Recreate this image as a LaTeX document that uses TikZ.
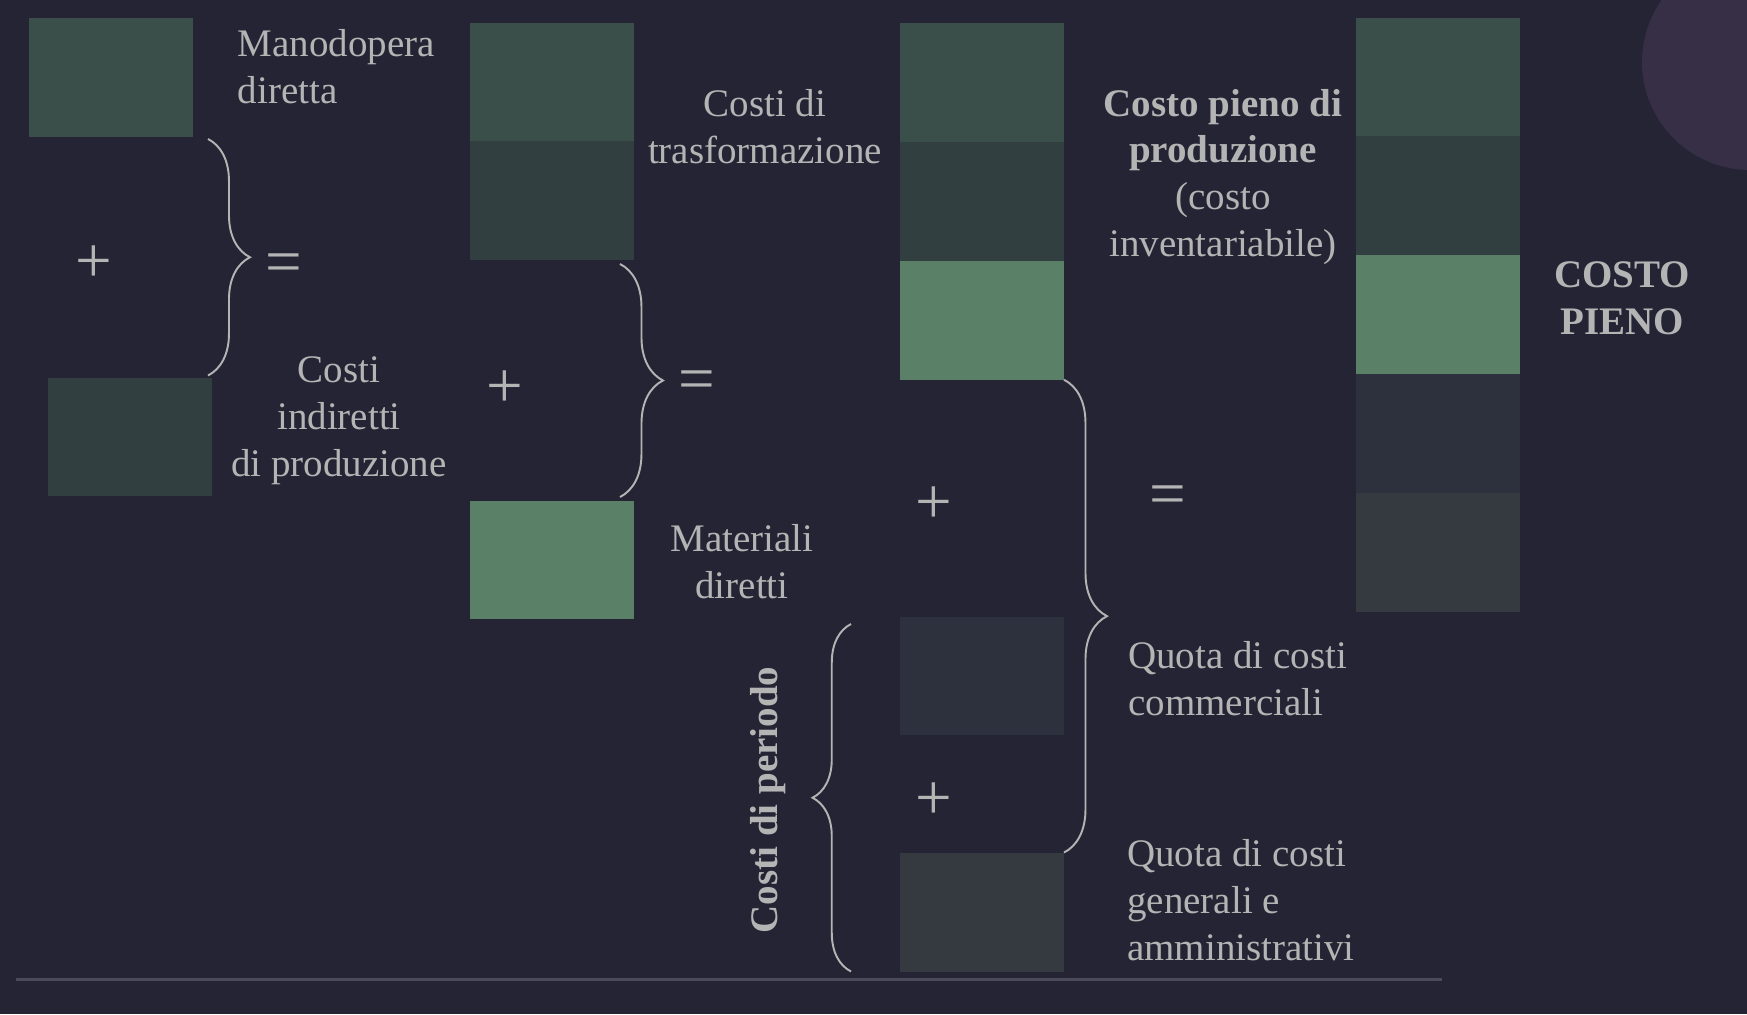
\documentclass[tikz,border=0pt]{standalone}
\usepackage{fontspec}
\setmainfont{Liberation Serif}
\usetikzlibrary{positioning,decorations.pathreplacing}

\definecolor{bgcol}{HTML}{252435}
\definecolor{disc}{HTML}{362F45}
\definecolor{txt}{HTML}{B4B4B4}
\definecolor{rulecol}{HTML}{4B4A5A}
\definecolor{labour}{HTML}{3A4E4A}
\definecolor{overhead}{HTML}{323F41}
\definecolor{material}{HTML}{5A8068}
\definecolor{selling}{HTML}{2D313D}
\definecolor{admin}{HTML}{343A3F}

\begin{document}
\begin{tikzpicture}[
     x=0.02cm, y=-0.02cm,
     % define styles
     cost/.style={
         draw=none,
         inner sep=0pt, outer sep=0pt,
         minimum width=3.28cm,
         minimum height=2.38cm
     },
     lbl/.style={
         text=txt,
         font=\fontsize{22.2}{26.7}\selectfont
     },
     sign/.style={
         text=txt,
         inner sep=0pt,
         font=\fontsize{37}{37}\selectfont
     },
     curly/.style={
         draw=txt,
         line width=1.1pt,
         decorate,
         decoration={brace, amplitude=#1}
     }
]
% background
\useasboundingbox (0,0) rectangle (1747,1014);
\fill[bgcol] (0,0) rectangle (1747,1014);
\fill[disc] (1750,62) circle (108);

% labour + overhead
\node[cost, fill=labour] (manod) at (111,77.5) {};
\node[cost, fill=overhead] (indir) at (130,437) {};
\node[lbl, anchor=west, align=left] (manodtxt) at (231.6,67) {Manodopera\\diretta};
\node[lbl, align=center] (indirtxt) at (339,421) {Costi\\indiretti\\di produzione};
\node[sign] (plusA) at (94,264.5) {+};
\node[sign] (eqA) at (283.5,268.5) {=};
\draw[curly=0.84cm] ([shift={(15,2)}]manod.south east) -- ([shift={(-4,-2)}]indir.north east);

% conversion costs + materials
\node[cost, fill=labour] (trasfA) at (552,82) {};
\node[cost, fill=overhead, below=0pt of trasfA] (trasfB) {};
\node[cost, fill=material] (mater) at (552,560) {};
\node[lbl, align=center] (trasftxt) at (765,127) {Costi di\\trasformazione};
\node[lbl, align=center] (matertxt) at (742,562) {Materiali\\diretti};
\node[sign] (plusB) at (505,389.5) {+};
\node[sign] (eqB) at (697,386) {=};
\draw[curly=0.86cm] ([shift={(-14,3.5)}]trasfB.south east) -- ([shift={(-14,-3.5)}]mater.north east);

% production cost + period costs
\node[cost, fill=labour] (prodA) at (982,82.3) {};
\node[cost, fill=overhead, below=0pt of prodA] (prodB) {};
\node[cost, fill=material, below=0pt of prodB] (prodC) {};
\node[cost, fill=selling] (comm) at (982,676) {};
\node[cost, fill=admin] (amm) at (982,912) {};
\node[lbl, align=center] (prodtxt) at (1223,177)
     {\textbf{Costo pieno di}\\\textbf{produzione}\\(costo\\inventariabile)};
\node[lbl, anchor=west, align=left] (commtxt) at (1122,679) {Quota di costi\\commerciali};
\node[lbl, anchor=west, align=left] (ammtxt) at (1121,900) {Quota di costi\\generali e\\amministrativi};
\node[lbl, rotate=90, font=\fontsize{22.2}{26.7}\selectfont\bfseries] (periodtxt) at (767.7,800) {Costi di periodo};
\node[sign] (plusC) at (934,505.5) {+};
\node[sign] (plusD) at (934,801) {+};
\node[sign] (eqC) at (1167.5,500.5) {=};
\draw[curly=0.86cm] (prodC.south east) -- (amm.north east);
\draw[curly=0.77cm] ([shift={(-49,0)}]amm.south west) -- ([shift={(-49,7.5)}]comm.north west);

% full cost
\node[cost, fill=labour] (fullA) at (1438,77) {};
\node[cost, fill=overhead, below=0pt of fullA] (fullB) {};
\node[cost, fill=material, below=0pt of fullB] (fullC) {};
\node[cost, fill=selling, below=0pt of fullC] (fullD) {};
\node[cost, fill=admin, below=0pt of fullD] (fullE) {};
\node[lbl, align=center, font=\fontsize{22.2}{26.7}\selectfont\bfseries] (fulltxt) at (1622,298.5) {COSTO\\PIENO};

% bottom rule
\draw[rulecol, line width=1.7pt] (15.6,979) -- (1441.6,979);

\end{tikzpicture}
\end{document}
